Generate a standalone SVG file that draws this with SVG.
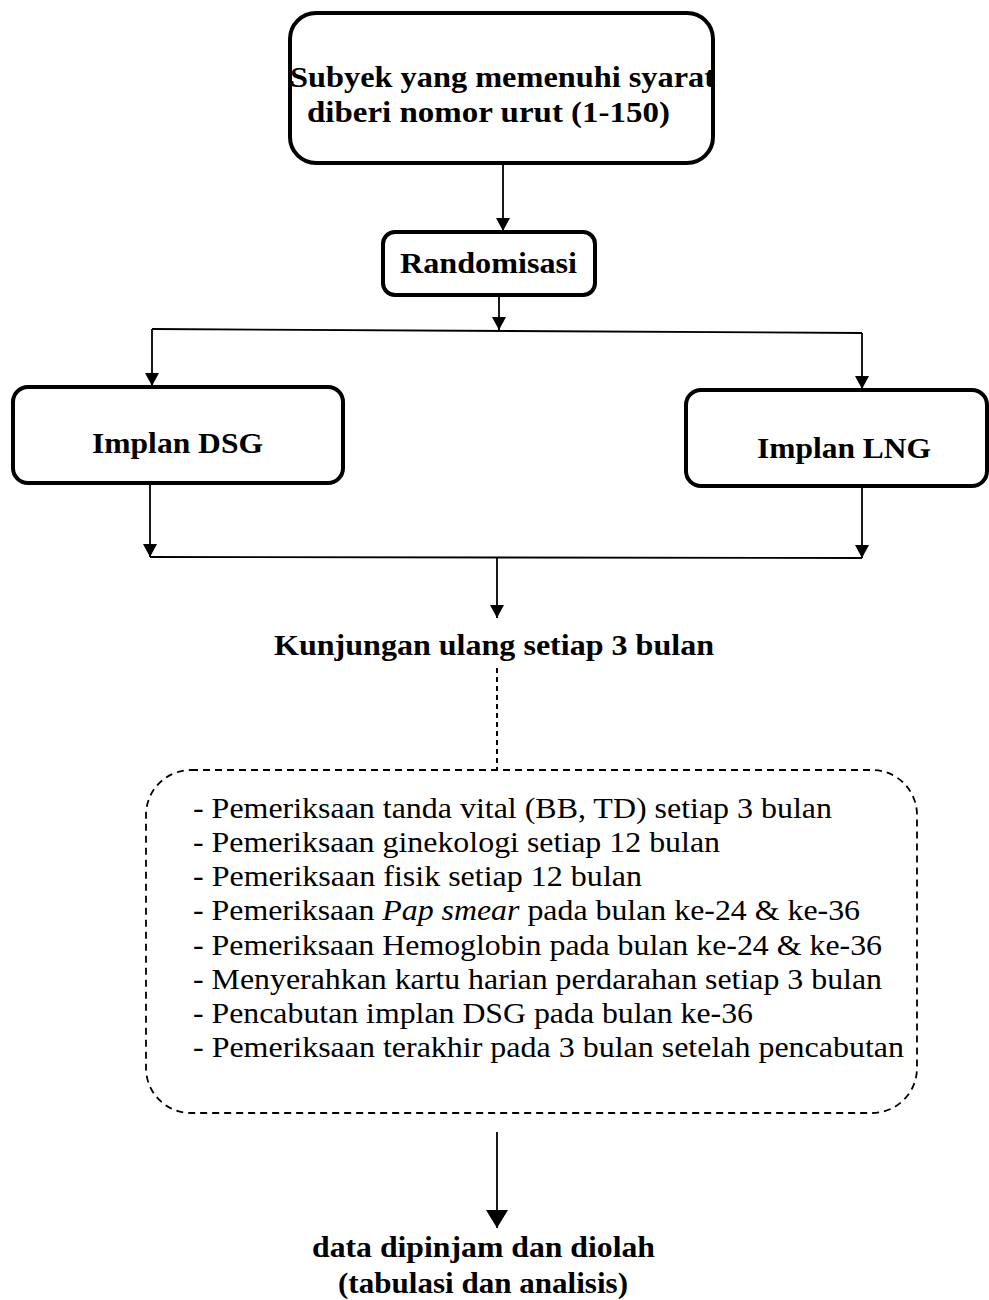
<svg xmlns="http://www.w3.org/2000/svg" width="989" height="1300" viewBox="0 0 989 1300">
<style>
.box{fill:#fff;stroke:#000;stroke-width:4}
.dbox{fill:none;stroke:#000;stroke-width:1.8;stroke-dasharray:7 5}
.con{fill:none;stroke:#000;stroke-width:1.8}
.dot{fill:none;stroke:#000;stroke-width:2;stroke-dasharray:5 4}
.b{font-family:"Liberation Serif","Times New Roman",serif;font-weight:bold;font-size:30px;fill:#000}
.r{font-family:"Liberation Serif","Times New Roman",serif;font-size:29px;fill:#000}
</style>
<defs>
<marker id="ah" markerWidth="14" markerHeight="14" refX="13" refY="7" orient="auto" markerUnits="userSpaceOnUse"><path d="M0,0 L13,7 L0,14 z" fill="#000"/></marker>
<marker id="ahb" markerWidth="18" markerHeight="22" refX="18" refY="11" orient="auto" markerUnits="userSpaceOnUse"><path d="M0,0 L18,11 L0,22 z" fill="#000"/></marker>
</defs>
<g id="connectors">
<path class="con" d="M503,165 V231" marker-end="url(#ah)"/>
<path class="con" d="M499,297 V330" marker-end="url(#ah)"/>
<path class="con" d="M152,329 L862,333"/>
<path class="con" d="M152,329 V386" marker-end="url(#ah)"/>
<path class="con" d="M862,333 V389" marker-end="url(#ah)"/>
<path class="con" d="M150,485 V557" marker-end="url(#ah)"/>
<path class="con" d="M862,488 V558" marker-end="url(#ah)"/>
<path class="con" d="M150,557 L862,558"/>
<path class="con" d="M497,557 V618" marker-end="url(#ah)"/>
<path class="dot" d="M497,668 V770"/>
<path class="con" d="M497,1132 V1228" marker-end="url(#ahb)"/>
</g>
<g id="subyek">
<rect class="box" x="290" y="13" width="423" height="150" rx="26"/>
<text class="b" x="290" y="87" textLength="425" lengthAdjust="spacingAndGlyphs">Subyek yang memenuhi syarat</text>
<text class="b" x="307" y="122" textLength="363" lengthAdjust="spacingAndGlyphs">diberi nomor urut (1-150)</text>
</g>
<g id="randomisasi">
<rect class="box" x="383" y="232" width="212" height="63" rx="12"/>
<text class="b" x="400" y="273" textLength="177" lengthAdjust="spacingAndGlyphs">Randomisasi</text>
</g>
<g id="dsg">
<rect class="box" x="13" y="387" width="330" height="96" rx="15"/>
<text class="b" x="92" y="453" textLength="171" lengthAdjust="spacingAndGlyphs">Implan DSG</text>
</g>
<g id="lng">
<rect class="box" x="686" y="390" width="301" height="96" rx="15"/>
<text class="b" x="757" y="458" textLength="174" lengthAdjust="spacingAndGlyphs">Implan LNG</text>
</g>
<g id="kunjungan">
<text class="b" x="274" y="655" textLength="440" lengthAdjust="spacingAndGlyphs">Kunjungan ulang setiap 3 bulan</text>
</g>
<g id="pemeriksaan">
<rect class="dbox" x="146" y="770" width="771" height="343" rx="45"/>
<text class="r" x="193" y="818" textLength="639" lengthAdjust="spacingAndGlyphs">- Pemeriksaan tanda vital (BB, TD) setiap 3 bulan</text>
<text class="r" x="193" y="852" textLength="527" lengthAdjust="spacingAndGlyphs">- Pemeriksaan ginekologi setiap 12 bulan</text>
<text class="r" x="193" y="886" textLength="449" lengthAdjust="spacingAndGlyphs">- Pemeriksaan fisik setiap 12 bulan</text>
<text class="r" x="193" y="920" textLength="667" lengthAdjust="spacingAndGlyphs">- Pemeriksaan <tspan font-style="italic">Pap smear</tspan> pada bulan ke-24 &amp; ke-36</text>
<text class="r" x="193" y="955" textLength="689" lengthAdjust="spacingAndGlyphs">- Pemeriksaan Hemoglobin pada bulan ke-24 &amp; ke-36</text>
<text class="r" x="193" y="989" textLength="689" lengthAdjust="spacingAndGlyphs">- Menyerahkan kartu harian perdarahan setiap 3 bulan</text>
<text class="r" x="193" y="1023" textLength="560" lengthAdjust="spacingAndGlyphs">- Pencabutan implan DSG pada bulan ke-36</text>
<text class="r" x="193" y="1057" textLength="711" lengthAdjust="spacingAndGlyphs">- Pemeriksaan terakhir pada 3 bulan setelah pencabutan</text>
</g>
<g id="data">
<text class="b" x="312" y="1257" textLength="343" lengthAdjust="spacingAndGlyphs">data dipinjam dan diolah</text>
<text class="b" x="338" y="1293" textLength="290" lengthAdjust="spacingAndGlyphs">(tabulasi dan analisis)</text>
</g>
</svg>
